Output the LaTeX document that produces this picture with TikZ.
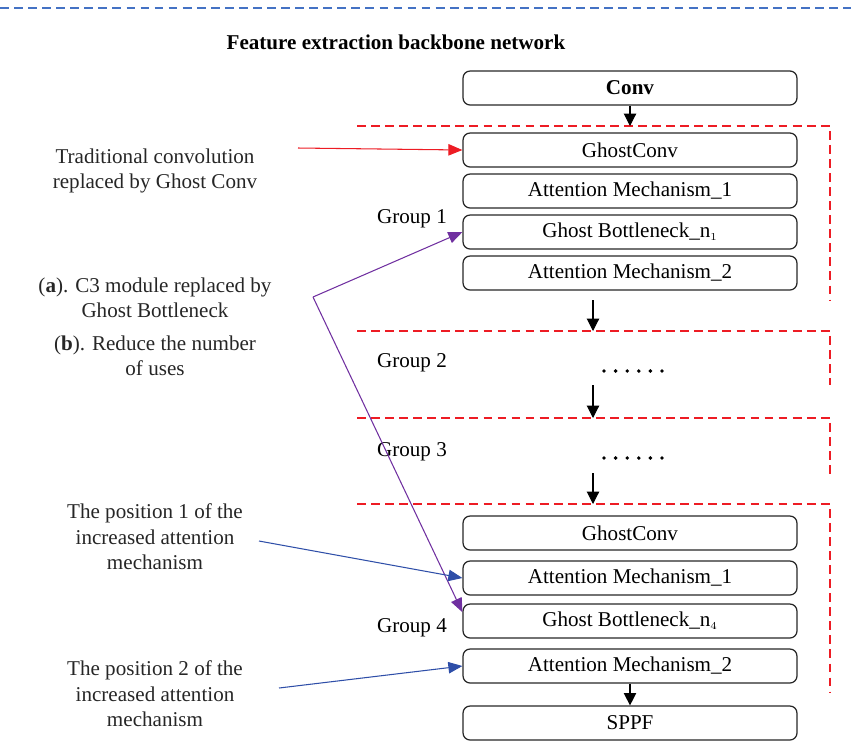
\documentclass[tikz,border=0pt]{standalone}
\usepackage{fontspec}
\setmainfont{Liberation Serif}
\usetikzlibrary{arrows.meta}

\definecolor{grpred}{RGB}{237,28,36}
\definecolor{ptrblue}{RGB}{46,78,168}
\definecolor{ptrpurple}{RGB}{112,48,160}
\definecolor{topblue}{RGB}{68,114,196}

\begin{document}
\begin{tikzpicture}[x=0.02cm,y=-0.02cm,
        font=\fontsize{12}{14.5}\selectfont,
        block/.style={draw=black!85, line width=0.7pt, rounded corners=4pt,
            minimum width=6.68cm, minimum height=0.68cm, inner sep=0pt},
        flow/.style={-{Triangle[length=7pt,width=7pt]}, line width=0.6pt},
        frame/.style={grpred, line width=0.6pt, dash pattern=on 5pt off 3pt},
        note/.style={align=center, text=black!85},
        ptr/.style={-{Triangle[length=8pt,width=6.5pt]}, line width=0.6pt}]
    \useasboundingbox (0,0) rectangle (851,752);

    % top rule and title
    \draw[topblue, line width=0.6pt, dash pattern=on 5pt off 3pt] (0,8) -- (851,8);
    \node[font=\fontsize{12}{14.5}\selectfont\bfseries] (title) at (396,42) {Feature extraction backbone network};

    % group frames
    \draw[frame] (357,126) -- (830,126) -- (830,300);
    \draw[frame] (357,331) -- (830,331) -- (830,385);
    \draw[frame] (357,418) -- (830,418) -- (830,475);
    \draw[frame] (357,504) -- (830,504) -- (830,692);

    % blocks
    \node[block] (conv) at (630,88) {\textbf{Conv}};
    \node[block] (gc1) at (630,150) {GhostConv};
    \node[block] (am11) at (630,191) {Attention Mechanism\_1};
    \node[block] (gb1) at (630,232) {Ghost Bottleneck\_n$_{\scriptscriptstyle 1}$};
    \node[block] (am21) at (630,273) {Attention Mechanism\_2};
    \node[block] (gc4) at (630,533) {GhostConv};
    \node[block] (am14) at (630,578) {Attention Mechanism\_1};
    \node[block] (gb4) at (630,621) {Ghost Bottleneck\_n$_{\scriptscriptstyle 4}$};
    \node[block] (am24) at (630,666) {Attention Mechanism\_2};
    \node[block] (sppf) at (630,723) {SPPF};

    % group labels
    \node (g1) at (412,219) {Group 1};
    \node (g2) at (412,363) {Group 2};
    \node (g3) at (412,452) {Group 3};
    \node (g4) at (412,628) {Group 4};

    % dots for groups 2 and 3
    \foreach \y in {371,458}
        \foreach \i in {0,...,5}
            \fill (604+\i*11.6,\y) circle (1.1pt);

    % main flow
    \coordinate (in1) at (630,126);
    \coordinate (out1) at (593,300);
    \coordinate (in2) at (593,331);
    \coordinate (out2) at (593,385);
    \coordinate (in3) at (593,418);
    \coordinate (out3) at (593,473);
    \coordinate (in4) at (593,504);
    \draw[flow] (conv) -- (in1);
    \draw[flow] (out1) -- (in2);
    \draw[flow] (out2) -- (in3);
    \draw[flow] (out3) -- (in4);
    \draw[flow] (am24) -- (sppf);

    % notes on the left
    \node[note] (n1) at (155,171) {Traditional convolution\\replaced by Ghost Conv};
    \node[note] (n2) at (155,298) {(\textbf{a}). C3 module replaced by\\Ghost Bottleneck};
    \node[note] (n3) at (155,356) {(\textbf{b}). Reduce the number\\of uses};
    \node[note] (n4) at (155,537) {The position 1 of the\\increased attention\\mechanism};
    \node[note] (n5) at (155,694) {The position 2 of the\\increased attention\\mechanism};

    % pointers
    \coordinate (r0) at (298,148);
    \coordinate (p0) at (313,297);
    \coordinate (b1) at (259,541);
    \coordinate (b2) at (279,688);
    \draw[ptr, grpred] (r0) -- (gc1.west);
    \draw[ptr, ptrpurple] (p0) -- (gb1.west);
    \draw[ptr, ptrpurple] (p0) -- ([yshift=5pt]gb4.west);
    \draw[ptr, ptrblue] (b1) -- (am14.west);
    \draw[ptr, ptrblue] (b2) -- (am24.west);
\end{tikzpicture}
\end{document}
